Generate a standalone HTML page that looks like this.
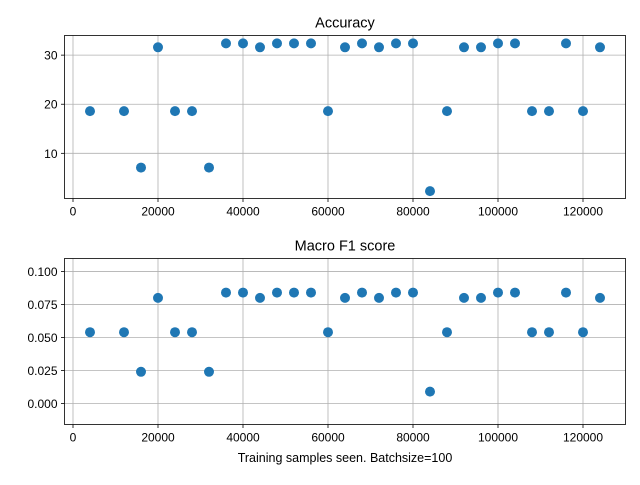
<!DOCTYPE html>
<html><head><meta charset="utf-8"><style>
body{margin:0;background:#fff}
svg text{font-family:"Liberation Sans","DejaVu Sans",sans-serif;fill:#000}
</style></head><body>
<svg id="chart" width="640" height="480" xmlns="http://www.w3.org/2000/svg"></svg>
<script>
const samples=[4000,12000,16000,20000,24000,28000,32000,36000,40000,44000,48000,52000,56000,60000,64000,68000,72000,76000,80000,84000,88000,92000,96000,100000,104000,108000,112000,116000,120000,124000];
const accuracy=[18.6,18.6,7.1,31.6,18.6,18.6,7.1,32.4,32.4,31.6,32.4,32.4,32.4,18.6,31.6,32.4,31.6,32.4,32.4,2.3,18.6,31.6,31.6,32.4,32.4,18.6,18.6,32.4,18.6,31.6];
const f1=[0.054,0.054,0.024,0.080,0.054,0.054,0.024,0.084,0.084,0.080,0.084,0.084,0.084,0.054,0.080,0.084,0.080,0.084,0.084,0.009,0.054,0.080,0.080,0.084,0.084,0.054,0.054,0.084,0.054,0.080];
const xTicks=[0,20000,40000,60000,80000,100000,120000];
const accTicks=[10,20,30];
const f1Ticks=[0,0.025,0.05,0.075,0.1];
const f1TickLabels=["0.000","0.025","0.050","0.075","0.100"];

const NS="http://www.w3.org/2000/svg";
const svg=document.getElementById('chart');
function el(t,a,p){const e=document.createElementNS(NS,t);for(const k in a)e.setAttribute(k,a[k]);(p||svg).appendChild(e);return e;}
const X0=64.5,X1=625.5,xmin=-2000,xmax=130000;
const xs=v=>X0+(v-xmin)/(xmax-xmin)*(X1-X0);

function panel(name,top,bottom,ymin,ymax,vals,ticks,labels,title){
  const g=el('g',{});
  
  
  const ys=v=>bottom-(v-ymin)/(ymax-ymin)*(bottom-top);
  xTicks.forEach(t=>{const x=xs(t);
    const l=el('line',{x1:x,x2:x,y1:top,y2:bottom,stroke:'#b0b0b0','stroke-width':0.8},g);
    
    el('line',{x1:x,x2:x,y1:bottom,y2:bottom+3.5,stroke:'#000','stroke-width':0.8},g);
    const tx=el('text',{x:x,y:bottom+17,'font-size':12,'text-anchor':'middle'},g);tx.textContent=t;
    
  });
  ticks.forEach((t,i)=>{const y=ys(t);
    const l=el('line',{x1:X0,x2:X1,y1:y,y2:y,stroke:'#b0b0b0','stroke-width':0.8},g);
    
    el('line',{x1:X0-3.5,x2:X0,y1:y,y2:y,stroke:'#000','stroke-width':0.8},g);
    const tx=el('text',{x:X0-7,y:y+4.5,'font-size':12,'text-anchor':'end'},g);tx.textContent=labels[i];
    
  });
  samples.forEach((s,i)=>{
    const c=el('circle',{cx:xs(s),cy:ys(vals[i]),r:5,fill:'#1f77b4'},g);
    
  });
  const r=el('rect',{x:X0,y:top,width:X1-X0,height:bottom-top,fill:'none',stroke:'#000','stroke-width':0.8},g);
  
  const tt=el('text',{x:(X0+X1)/2,y:top-8,'font-size':14.5,'text-anchor':'middle'},g);tt.textContent=title;
  
}
panel('accuracy',35.5,198.5,0.8,34.0,accuracy,accTicks,accTicks.map(String),'Accuracy');
panel('f1',258.5,424.5,-0.0159,0.1098,f1,f1Ticks,f1TickLabels,'Macro F1 score');
const xl=el('text',{x:(X0+X1)/2,y:462,'font-size':12.5,'text-anchor':'middle'});
xl.textContent='Training samples seen. Batchsize=100';


</script>
</body></html>
